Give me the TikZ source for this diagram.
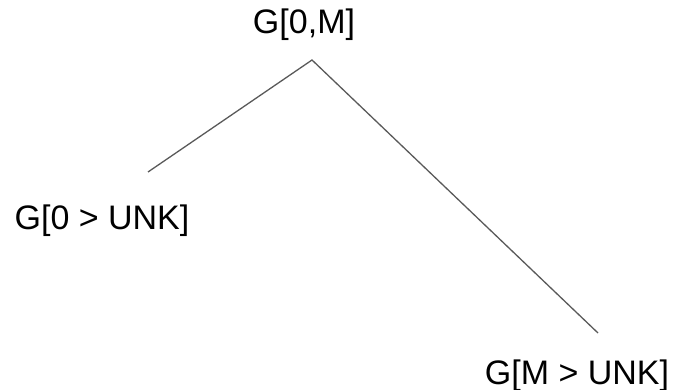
\documentclass[tikz,border=0pt]{standalone}
\usepackage{fontspec}
\setmainfont{Liberation Sans}
\begin{document}
\begin{tikzpicture}[x=1pt,y=-1pt,
  lbl/.style={inner sep=0pt, anchor=base, font=\fontsize{34}{40}\selectfont},
  edge/.style={draw=black!65, line width=1.3pt}]
\useasboundingbox (0,0) rectangle (674,390);
\node[lbl] (root) at (304,34) {G[0,M]};
\node[lbl] (left) at (102,229) {G[0 > UNK]};
\node[lbl] (right) at (577,384) {G[M > UNK]};
\coordinate (apex) at (312,60);
\coordinate (lend) at (148,172);
\coordinate (rend) at (598,333);
\draw[edge] (lend) -- (apex) -- (rend);
\end{tikzpicture}
\end{document}
